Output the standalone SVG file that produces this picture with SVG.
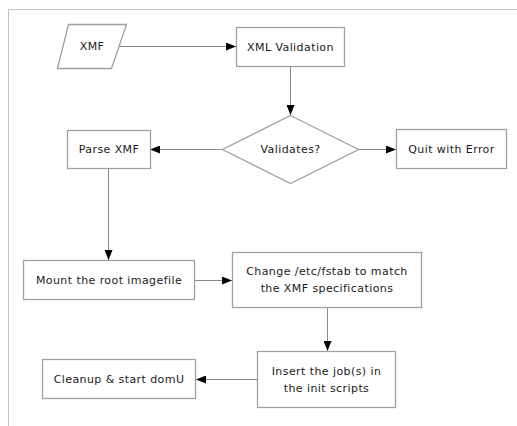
<svg xmlns="http://www.w3.org/2000/svg" width="517" height="426" viewBox="0 0 517 426">
<defs>
<style>
.node{fill:#fff;stroke:#a0a0a0;stroke-width:1.3}
.lbl{font-family:"DejaVu Sans",Verdana,sans-serif;font-size:11px;letter-spacing:0.42px;fill:#1a1a1a;text-anchor:middle;dominant-baseline:central}
.conn{stroke:#8a8a8a;stroke-width:1;fill:none}
</style>
<marker id="ah" markerWidth="10" markerHeight="8" refX="10" refY="4" orient="auto" markerUnits="userSpaceOnUse">
<path d="M0,0 L10,4 L0,8 Z" fill="#000"/>
</marker>
</defs>
<rect x="0" y="0" width="517" height="426" fill="#fff"/>
<path d="M8.5,426 V9.5 H517" fill="none" stroke="#c4c4c4" stroke-width="1"/>
<g id="connectors">
<line class="conn" x1="119" y1="46.5" x2="236" y2="46.5" marker-end="url(#ah)"/>
<line class="conn" x1="290.5" y1="66" x2="290.5" y2="115" marker-end="url(#ah)"/>
<line class="conn" x1="358" y1="149.5" x2="396" y2="149.5" marker-end="url(#ah)"/>
<line class="conn" x1="222" y1="149.5" x2="150" y2="149.5" marker-end="url(#ah)"/>
<line class="conn" x1="108.5" y1="168" x2="108.5" y2="260" marker-end="url(#ah)"/>
<line class="conn" x1="194" y1="280.5" x2="232" y2="280.5" marker-end="url(#ah)"/>
<line class="conn" x1="327.5" y1="307" x2="327.5" y2="351" marker-end="url(#ah)"/>
<line class="conn" x1="257" y1="379.5" x2="196" y2="379.5" marker-end="url(#ah)"/>
</g>
<g id="xmf">
<polygon class="node" points="68.5,24.5 126.5,24.5 111.5,68.5 57.5,68.5"/>
<text class="lbl" x="92" y="46.5">XMF</text>
</g>
<g id="xmlvalidation">
<rect class="node" x="236.5" y="27.5" width="108" height="39"/>
<text class="lbl" x="290.5" y="47">XML Validation</text>
</g>
<g id="validates">
<polygon class="node" points="290.5,115.5 358.5,149.5 290.5,183.5 222.5,149.5"/>
<text class="lbl" x="290.5" y="149.5">Validates?</text>
</g>
<g id="quit">
<rect class="node" x="396.5" y="129.5" width="110" height="39"/>
<text class="lbl" x="451.5" y="149">Quit with Error</text>
</g>
<g id="parse">
<rect class="node" x="67.5" y="130.5" width="83" height="38"/>
<text class="lbl" x="109" y="149.5">Parse XMF</text>
</g>
<g id="mount">
<rect class="node" x="23.5" y="260.5" width="171" height="39"/>
<text class="lbl" x="109" y="280">Mount the root imagefile</text>
</g>
<g id="change">
<rect class="node" x="232.5" y="252.5" width="189" height="55"/>
<text class="lbl" x="327" y="271">Change /etc/fstab to match</text>
<text class="lbl" x="327" y="288.5">the XMF specifications</text>
</g>
<g id="insert">
<rect class="node" x="257.5" y="351.5" width="138" height="56"/>
<text class="lbl" x="326.5" y="371">Insert the job(s) in</text>
<text class="lbl" x="326.5" y="388">the init scripts</text>
</g>
<g id="cleanup">
<rect class="node" x="42.5" y="359.5" width="153" height="39"/>
<text class="lbl" x="119" y="379">Cleanup &amp; start domU</text>
</g>
</svg>
